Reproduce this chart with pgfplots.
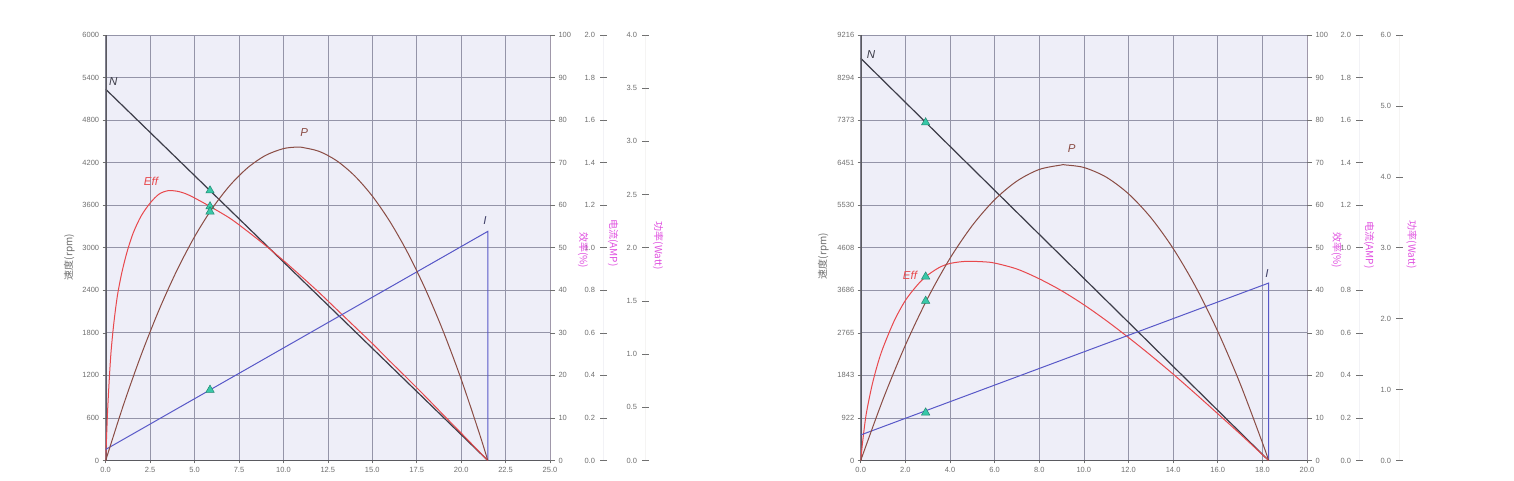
\documentclass[border=0pt]{standalone}
\usepackage{pgfplots}
\pgfplotsset{compat=1.18}
\usepackage{fontspec}
\setmainfont{Liberation Sans}
\newfontfamily\cjk{Noto Sans CJK SC}
\definecolor{bgc}{HTML}{EEEEF8}
\definecolor{gridc}{HTML}{9494A8}
\definecolor{axisc}{HTML}{5A5A60}
\definecolor{tickc}{HTML}{707070}
\definecolor{nc}{HTML}{3C3C48}
\definecolor{pc}{HTML}{8A4C44}
\definecolor{effc}{HTML}{E8484C}
\definecolor{ic}{HTML}{5858C8}
\definecolor{ilab}{HTML}{404068}
\definecolor{mkf}{HTML}{38C8A8}
\definecolor{mkd}{HTML}{208870}
\definecolor{pinkax}{HTML}{F4B8B8}
\definecolor{ax2c}{HTML}{9A9AB8}
\definecolor{ax3c}{HTML}{B0ACA4}
\definecolor{magc}{HTML}{E050E0}
\tikzset{lab/.style={font=\itshape\fontsize{11.5}{12}\selectfont},
  alab/.style={font=\cjk\fontsize{10}{11}\selectfont}}
\pgfplotsset{
  base/.style={scale only axis, height=425.5pt, anchor=south west, xmin=0, ymin=0,
    axis line style={draw=none},
    tick label style={font=\fontsize{7.5}{8}\selectfont, text=tickc},
    /pgf/number format/assume math mode=true,
    tick style={tickc, line width=0.6pt}},
  onedec/.style={/pgf/number format/fixed, /pgf/number format/fixed zerofill, /pgf/number format/precision=1},
  mainax/.style={base, grid=major, grid style={gridc, line width=0.7pt},
    axis background/.style={fill=bgc}, tick pos=left, tick align=outside,
    major tick length=3pt, x tick label style={onedec},
    y tick label style={/pgf/number format/1000 sep={}}},
  effax/.style={base, ymax=100, ytick={0,10,...,100}, xtick=\empty,
    ytick pos=right, tick align=outside, major tick length=5pt},
  rax/.style={base, xtick=\empty, ytick pos=right, tick align=center,
    major tick length=7pt, y tick label style={onedec, anchor=east, xshift=-8pt}},
  mk/.style={only marks, mark=triangle*, mark size=4.8pt, mark options={fill=mkf, draw=mkd, line width=0.5pt}},
}
\begin{document}
\begin{tikzpicture}
\useasboundingbox[fill=white] (0,0) rectangle (1514pt,481pt);
% ================= LEFT PANEL =================
\begin{axis}[mainax, at={(105.7pt,20.5pt)}, width=444.3pt,
  xmax=25, ymax=6000, xtick={0,2.5,...,25}, ytick={0,600,...,6000}]
  \addplot[nc, line width=1.2pt] coordinates {(0,5235) (21.5,0)};
  \addplot[mk] coordinates {(5.87,3806)};
  \node[lab, nc] at (axis cs:0.42,5343) {N};
  \node[lab, pc] at (axis cs:11.17,4624) {P};
  \node[lab, effc] at (axis cs:2.55,3934) {Eff};
  \node[lab, ilab] at (axis cs:21.34,3384) {I};
  \draw[pinkax, line width=1pt] (rel axis cs:1,0) -- (rel axis cs:1,1);
  \draw[axisc, line width=1.6pt] (rel axis cs:0,1) -- (rel axis cs:0,0) -- (rel axis cs:1,0);
\end{axis}
\begin{axis}[effax, at={(105.7pt,20.5pt)}, width=444.3pt, xmax=25]
  \addplot[effc, line width=1pt, smooth] coordinates {
    (0,0) (0.1,11) (0.2,19) (0.3,25.5) (0.45,32) (0.65,38.5) (0.9,44) (1.2,49)
    (1.55,53.5) (2.0,57.5) (2.5,60.5) (3.0,62.6) (3.5,63.4) (4.0,63.3) (4.5,62.7)
    (5.0,61.7) (5.87,59.7) (7,56.9) (8,53.8) (9,50.5) (10,47.0) (11,43.3)
    (12,39.5) (13,35.5) (14,31.5) (15,27.5) (16,23.3) (17,19.2) (18,15.0)
    (19,10.7) (20,6.45) (21,2.15) (21.5,0)};
  \addplot[mk] coordinates {(5.87,59.7)};
\end{axis}
\begin{axis}[rax, at={(105.7pt,20.5pt)}, width=497.3pt, xmax=27.9822,
  ymax=2, ytick={0,0.2,...,2}]
  \draw[ax2c, line width=0.8pt] (rel axis cs:1,0) -- (rel axis cs:1,1);
  \addplot[ic, line width=1pt] coordinates {(0,0.052) (21.5,1.077) (21.5,0)};
  \addplot[mk] coordinates {(5.87,0.332)};
\end{axis}
\begin{axis}[rax, at={(105.7pt,20.5pt)}, width=539.3pt, xmax=30.3455,
  ymax=4, ytick={0,0.5,...,4}]
  \draw[ax3c, line width=0.8pt] (rel axis cs:1,0) -- (rel axis cs:1,1);
  \addplot[pc, line width=1pt, smooth] coordinates {
    (0,0) (1,0.5227) (2,0.9944) (3,1.4151) (4,1.7848) (5,2.1036) (6,2.3713)
    (7,2.588) (8,2.7538) (9,2.8685) (10,2.932) (10.75,2.9466) (11,2.945)
    (12,2.9067) (13,2.8175) (14,2.6772) (15,2.486) (16,2.2438) (17,1.9506)
    (18,1.6063) (19,1.2111) (20,0.7649) (21,0.2677) (21.5,0)};
  \addplot[mk] coordinates {(5.87,2.339)};
\end{axis}
\node[rotate=90, text=tickc, alab] at (69.3pt,224pt) {速度(rpm)};
\node[rotate=-90, text=magc, alab] at (583pt,231pt) {效率(\%)};
\node[rotate=-90, text=magc, alab] at (613pt,238pt) {电流(AMP)};
\node[rotate=-90, text=magc, alab] at (658pt,235pt) {功率(Watt)};
% ================= RIGHT PANEL =================
\begin{axis}[mainax, at={(860.7pt,20.5pt)}, width=446.3pt,
  xmax=20, ymax=9216, xtick={0,2,...,20},
  ytick={0,921.6,1843.2,2764.8,3686.4,4608,5529.6,6451.2,7372.8,8294.4,9216},
  yticklabels={0,922,1843,2765,3686,4608,5530,6451,7373,8294,9216}]
  \addplot[nc, line width=1.2pt] coordinates {(0,8711) (18.28,0)};
  \addplot[mk] coordinates {(2.91,7320)};
  \node[lab, nc] at (axis cs:0.46,8783) {N};
  \node[lab, pc] at (axis cs:9.46,6762) {P};
  \node[lab, effc] at (axis cs:2.21,4018) {Eff};
  \node[lab, ilab] at (axis cs:18.2,4039) {I};
  \draw[pinkax, line width=1pt] (rel axis cs:1,0) -- (rel axis cs:1,1);
  \draw[axisc, line width=1.6pt] (rel axis cs:0,1) -- (rel axis cs:0,0) -- (rel axis cs:1,0);
\end{axis}
\begin{axis}[effax, at={(860.7pt,20.5pt)}, width=446.3pt, xmax=20]
  \addplot[effc, line width=1pt, smooth] coordinates {
    (0,0) (0.1,5) (0.25,11) (0.5,17.5) (0.75,22.5) (1.0,26.5) (1.5,32.8)
    (2.0,37.6) (2.5,41.0) (2.91,43.2) (3.5,45.3) (4.0,46.3) (4.7,46.8) (5.5,46.7)
    (6,46.4) (7,45.0) (8,42.7) (9,39.9) (10,36.6) (11,32.9) (12,28.9) (13,24.7)
    (14,20.3) (15,15.7) (16,11.0) (17,6.26) (18,1.38) (18.28,0)};
  \addplot[mk] coordinates {(2.91,43.2)};
\end{axis}
\begin{axis}[rax, at={(860.7pt,20.5pt)}, width=498.3pt, xmax=22.330,
  ymax=2, ytick={0,0.2,...,2}]
  \draw[ax2c, line width=0.8pt] (rel axis cs:1,0) -- (rel axis cs:1,1);
  \addplot[ic, line width=1pt] coordinates {(0,0.12) (18.28,0.834) (18.28,0)};
  \addplot[mk] coordinates {(2.91,0.225)};
\end{axis}
\begin{axis}[rax, at={(860.7pt,20.5pt)}, width=538.3pt, xmax=24.122,
  ymax=6, ytick={0,1,...,6}]
  \draw[ax3c, line width=0.8pt] (rel axis cs:1,0) -- (rel axis cs:1,1);
  \addplot[pc, line width=1pt, smooth] coordinates {
    (0,0) (1,0.8623) (2,1.6248) (3,2.2875) (4,2.8504) (5,3.3135) (6,3.6767)
    (7,3.9403) (8,4.1039) (9,4.1678) (9.14,4.1686) (10,4.1318) (11,3.9961)
    (12,3.7605) (13,3.4253) (14,2.990) (15,2.4551) (16,1.8205) (17,1.0859)
    (18,0.2515) (18.28,0)};
  \addplot[mk] coordinates {(2.91,2.25)};
\end{axis}
\node[rotate=90, text=tickc, alab] at (823.3pt,225pt) {速度(rpm)};
\node[rotate=-90, text=magc, alab] at (1336.7pt,231pt) {效率(\%)};
\node[rotate=-90, text=magc, alab] at (1369pt,236pt) {电流(AMP)};
\node[rotate=-90, text=magc, alab] at (1411.7pt,236pt) {功率(Watt)};
\end{tikzpicture}
\end{document}
